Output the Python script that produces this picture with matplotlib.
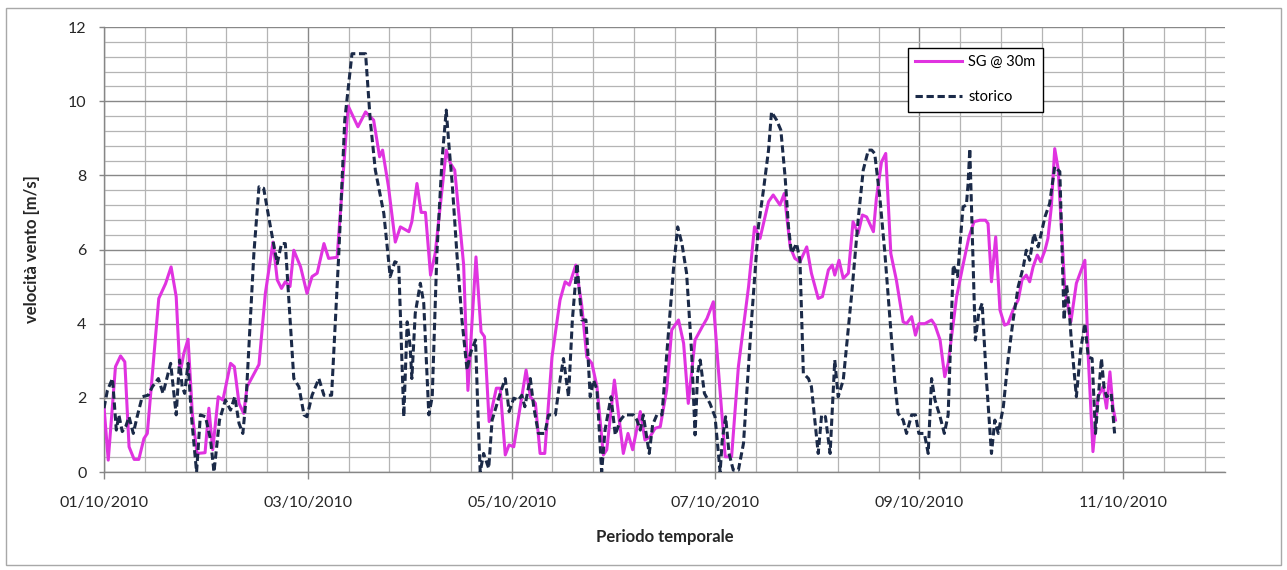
import numpy as np
import matplotlib
matplotlib.use("Agg")
import matplotlib.pyplot as plt
from matplotlib.ticker import MultipleLocator, FixedLocator, FixedFormatter
from matplotlib.patches import Rectangle

# ---------------- data ----------------
# hours since 01/10/2010 00:00
sg_hours = [0, 1.0, 2.7, 3.9, 4.9, 5.9, 7.1, 8.2, 9.4, 10.2,
            12.9, 14.5, 15.8, 17.0, 17.9, 18.8, 19.8, 20.8, 21.9, 23.8,
            24.7, 25.6, 26.9, 28.0, 29.8, 30.7, 31.8, 32.9, 33.7, 36.5,
            38.0, 39.8, 40.8, 41.8, 42.7, 43.8, 44.7, 46.3, 47.8, 49.0,
            50.2, 51.8, 52.9, 54.9, 57.5, 59.8, 61.6, 62.7, 63.5, 64.9,
            65.6, 67.0, 68.6, 69.8, 71.8, 72.5, 73.7, 74.7, 75.7, 76.9,
            78.0, 80.6, 81.6, 82.6, 84.7, 85.7, 87.6, 88.8, 89.6, 90.7,
            92.4, 93.3, 94.5, 95.4, 96.5, 99.4, 100.4, 101.6, 102.7, 103.8,
            105.5, 107.4, 108.6, 109.6, 111.1, 112.5, 113.7, 114.9, 116.1, 117.6,
            118.4, 120.2, 122.3, 123.4, 124.5, 126.3, 127.4, 128.6, 129.8, 131.0,
            132.5, 133.7, 135.3, 136.5, 137.6, 139.2, 140.9, 142.0, 143.5, 144.7,
            146.3, 147.8, 149.4, 151.8, 153.2, 154.5, 156.5, 157.6, 159.2, 160.2,
            161.6, 162.7, 163.9, 165.5, 166.6, 168.2, 169.2, 170.6, 171.5, 172.1,
            173.1, 174.1, 175.3, 176.4, 177.6, 178.6, 179.6, 181.2, 181.9, 183.1,
            184.1, 185.3, 186.6, 188.2, 189.0, 190.2, 191.1, 191.9, 193.3, 194.9,
            195.7, 196.9, 198.0, 198.8, 200.8, 202.3, 203.7, 204.9, 206.3, 207.6,
            208.2, 209.0, 210.0, 211.0, 212.1, 212.9, 214.1, 215.3, 216.2, 217.2,
            218.0, 218.8, 219.8, 220.6, 221.6, 222.3, 223.1, 223.9, 224.7, 226.3,
            227.7, 229.0, 231.0, 231.8, 232.9, 234.1, 235.3, 236.1, 236.9, 237.6,
            238.2]
sg_values = [1.76, 0.32, 2.84, 3.13, 2.97, 0.68, 0.34, 0.34, 0.90, 1.04,
             4.68, 5.08, 5.53, 4.73, 2.66, 3.20, 3.58, 1.58, 0.50, 0.52,
             1.72, 0.60, 2.03, 1.94, 2.93, 2.84, 1.85, 1.58, 2.30, 2.90,
             4.82, 6.20, 5.18, 4.95, 5.13, 5.00, 5.98, 5.53, 4.82, 5.27,
             5.36, 6.16, 5.76, 5.79, 9.87, 9.31, 9.71, 9.58, 9.49, 8.50,
             8.68, 7.69, 6.20, 6.61, 6.48, 6.75, 7.78, 7.00, 7.00, 5.31,
             5.90, 8.68, 8.32, 8.14, 5.58, 2.20, 5.80, 3.78, 3.65, 1.36,
             2.26, 2.26, 0.46, 0.73, 0.68, 2.75, 2.03, 1.85, 0.50, 0.50,
             3.10, 4.64, 5.13, 5.04, 5.58, 4.50, 3.10, 2.93, 2.30, 0.46,
             0.60, 2.48, 0.50, 1.04, 0.60, 1.63, 0.86, 0.95, 1.18, 1.22,
             2.21, 3.83, 4.10, 3.47, 1.85, 3.56, 3.92, 4.14, 4.59, 2.75,
             0.41, 0.41, 2.84, 5.00, 6.61, 6.30, 7.29, 7.47, 7.20, 7.51,
             6.07, 5.76, 5.67, 6.07, 5.36, 4.68, 4.73, 5.45, 5.58, 5.31,
             5.71, 5.22, 5.36, 6.75, 6.43, 6.93, 6.88, 6.48, 7.38, 8.36,
             8.59, 5.89, 5.18, 4.05, 4.00, 4.19, 3.69, 4.00, 4.00, 4.10,
             3.96, 3.56, 2.57, 2.93, 4.73, 5.58, 6.34, 6.75, 6.79, 6.79,
             6.70, 5.13, 6.34, 4.37, 3.96, 4.00, 4.37, 4.64, 5.18, 5.31,
             5.13, 5.53, 5.85, 5.67, 5.98, 6.30, 7.15, 8.72, 8.18, 4.90,
             4.05, 5.09, 5.71, 3.10, 0.55, 2.03, 2.30, 1.72, 2.70, 1.76,
             1.40]

st_hours = [0, 0.8, 2.0, 2.9, 3.5, 4.3, 5.1, 5.9, 6.9, 7.8,
            9.0, 10.4, 11.4, 12.8, 13.9, 14.9, 15.7, 16.2, 17.0, 17.8,
            18.4, 19.0, 19.8, 20.6, 21.8, 22.7, 23.9, 25.1, 25.9, 27.2,
            28.6, 29.8, 30.8, 31.8, 32.7, 33.5, 35.3, 36.5, 37.6, 39.2,
            40.8, 41.8, 42.7, 44.7, 45.9, 47.1, 47.8, 49.0, 50.6, 51.8,
            53.6, 55.3, 56.7, 58.4, 61.6, 62.7, 63.9, 65.9, 67.4, 68.5,
            69.4, 70.6, 71.4, 72.1, 72.5, 73.3, 74.5, 75.3, 76.5, 77.3,
            78.4, 79.6, 80.6, 81.2, 82.0, 83.1, 84.3, 85.5, 86.3, 87.5,
            88.2, 88.6, 89.4, 90.6, 91.4, 93.3, 94.5, 95.4, 96.5, 97.6,
            98.4, 99.1, 100.0, 100.4, 101.2, 102.3, 103.8, 104.7, 106.3, 107.4,
            108.2, 109.4, 110.3, 111.4, 112.5, 113.5, 114.0, 114.5, 115.3, 116.1,
            117.2, 118.0, 119.4, 120.4, 121.6, 122.6, 124.7, 125.5, 126.3, 127.0,
            128.4, 129.2, 130.2, 131.4, 132.8, 134.1, 135.1, 136.1, 137.2, 138.4,
            139.2, 139.8, 140.4, 141.4, 142.7, 143.9, 145.1, 145.6, 146.4, 147.2,
            148.2, 149.4, 150.6, 152.5, 154.1, 155.3, 156.5, 157.2, 158.4, 159.4,
            160.4, 161.2, 161.9, 163.1, 163.9, 164.7, 165.9, 166.6, 168.2, 169.0,
            169.9, 171.0, 172.1, 172.9, 174.1, 176.1, 177.6, 178.8, 180.0, 180.8,
            181.5, 182.7, 183.9, 185.1, 186.2, 187.0, 188.2, 189.0, 190.2, 191.1,
            191.9, 193.2, 194.1, 194.9, 195.7, 196.9, 197.9, 198.8, 200.0, 201.0,
            202.3, 203.1, 203.5, 203.9, 204.5, 205.2, 206.0, 206.8, 207.8, 209.0,
            209.8, 210.6, 211.8, 212.9, 214.1, 215.3, 216.5, 217.2, 218.0, 219.0,
            220.0, 221.6, 222.7, 223.9, 225.1, 225.9, 226.1, 226.7, 227.2, 227.8,
            229.0, 230.0, 231.0, 231.8, 232.7, 233.5, 234.1, 234.9, 235.5, 236.1,
            237.2, 238.0]
st_values = [1.72, 2.20, 2.52, 1.13, 1.54, 1.09, 1.22, 1.49, 1.04, 1.49,
             2.03, 2.07, 2.30, 2.52, 2.12, 2.57, 2.93, 2.39, 1.54, 3.02,
             2.30, 2.12, 2.93, 1.49, 0.00, 1.54, 1.49, 0.86, 0.00, 1.40,
             1.94, 1.67, 2.03, 1.31, 1.04, 2.03, 5.90, 7.69, 7.65, 6.61,
             5.62, 6.16, 6.16, 2.52, 2.30, 1.54, 1.49, 2.07, 2.52, 2.07,
             2.07, 5.90, 9.49, 11.28, 11.28, 9.49, 8.14, 6.97, 5.27, 5.67,
             5.62, 1.49, 4.05, 3.38, 2.52, 4.28, 5.09, 4.55, 1.54, 2.03,
             5.90, 8.41, 9.76, 8.86, 7.78, 5.90, 4.10, 2.75, 3.20, 3.56,
             1.13, 0.00, 0.50, 0.10, 1.40, 2.12, 2.52, 1.63, 1.99, 1.94,
             2.07, 1.76, 2.30, 2.52, 1.76, 1.04, 1.04, 1.54, 1.54, 2.48,
             3.06, 2.03, 4.10, 5.62, 4.10, 4.10, 3.10, 2.03, 2.48, 2.21,
             0.00, 1.13, 2.03, 1.00, 1.40, 1.54, 1.54, 1.40, 1.13, 1.54,
             0.50, 1.27, 1.54, 1.54, 3.56, 5.45, 6.61, 6.16, 5.36, 3.20,
             1.00, 2.66, 3.02, 2.12, 1.85, 1.49, 0.00, 0.86, 1.49, 0.50,
             0.05, 0.05, 0.77, 4.10, 6.61, 7.60, 8.68, 9.71, 9.49, 9.22,
             7.96, 6.61, 5.90, 6.16, 5.71, 2.66, 2.52, 2.30, 0.50, 1.54,
             1.49, 0.50, 3.02, 2.03, 2.48, 4.82, 6.79, 8.14, 8.68, 8.68,
             8.59, 7.42, 5.90, 4.10, 2.48, 1.58, 1.40, 1.04, 1.54, 1.54,
             1.04, 1.04, 0.50, 2.52, 1.94, 1.49, 1.04, 1.54, 5.58, 5.27,
             7.15, 7.20, 7.78, 8.72, 6.34, 3.56, 4.28, 4.55, 2.52, 0.50,
             1.40, 1.04, 1.76, 3.02, 4.10, 5.00, 5.53, 5.98, 5.71, 6.43,
             6.07, 6.88, 7.24, 8.23, 8.10, 4.82, 4.10, 5.04, 4.55, 3.56,
             2.03, 3.29, 4.00, 3.10, 3.06, 1.04, 1.94, 3.06, 2.30, 2.03,
             2.12, 1.04]

x_tick_days = [0, 2, 4, 6, 8, 10]
x_tick_labels = ["01/10/2010", "03/10/2010", "05/10/2010",
                 "07/10/2010", "09/10/2010", "11/10/2010"]
series_labels = ["SG @ 30m", "storico"]

assert len(sg_hours) == len(sg_values)
assert len(st_hours) == len(st_values)

# ---------------- style ----------------
W, H = 1287, 570
plt.rcParams['font.family'] = ['Lato', 'DejaVu Sans']
MAGENTA = '#E033E0'
NAVY = '#1B2A48'
TXT = '#262626'

fig = plt.figure(figsize=(W / 100, H / 100), dpi=100)
fig.patch.set_facecolor('white')

# outer chart border
fig.patches.append(Rectangle((6 / W, 1 - 565 / H), (1281 - 6) / W, (565 - 8) / H,
                             transform=fig.transFigure, fill=False,
                             edgecolor='#A8A8A8', linewidth=1.0))

ax = fig.add_axes([104 / W, 1 - 472 / H, 1121 / W, 445 / H])

sg_days = np.array(sg_hours) / 24.0
st_days = np.array(st_hours) / 24.0

ax.plot(sg_days, sg_values, color=MAGENTA, linewidth=2.2,
        label=series_labels[0], zorder=3)
ax.plot(st_days, st_values, color=NAVY, linewidth=2.2, linestyle=(0, (2.4, 1.2)),
        label=series_labels[1], zorder=4)

ax.set_xlim(0, 11)
ax.set_ylim(0, 12)

ax.xaxis.set_major_locator(FixedLocator(x_tick_days))
ax.xaxis.set_major_formatter(FixedFormatter(x_tick_labels))
ax.xaxis.set_minor_locator(MultipleLocator(0.4))
ax.yaxis.set_major_locator(MultipleLocator(2))
ax.yaxis.set_minor_locator(MultipleLocator(0.4))

ax.grid(which='minor', color='#B4B4B4', linewidth=0.9, zorder=0)
ax.grid(which='major', color='#888888', linewidth=1.0, zorder=0)
ax.set_axisbelow(True)

for s in ['top', 'right']:
    ax.spines[s].set_visible(False)
for s in ['left', 'bottom']:
    ax.spines[s].set_color('#868686')
    ax.spines[s].set_linewidth(1.0)

ax.tick_params(axis='x', which='major', direction='out', length=5, width=1,
               color='#868686', pad=12, labelsize=11.5, labelcolor=TXT)
ax.tick_params(axis='y', which='major', direction='out', length=3.6, width=1,
               color='#868686', pad=9, labelsize=11.5, labelcolor=TXT)
ax.tick_params(which='minor', length=0)

ax.set_xlabel("Periodo temporale", fontsize=12, fontweight='bold', color=TXT,
              labelpad=14)
ax.set_ylabel("velocità vento [m/s]", fontsize=12, fontweight='bold', color=TXT,
              labelpad=20)

leg = ax.legend(loc='upper left', bbox_to_anchor=(0.717, 0.953), borderaxespad=0,
                fontsize=10.5, frameon=True, fancybox=False, edgecolor='black',
                borderpad=0.5, handlelength=3.2, handletextpad=0.45,
                labelspacing=1.45)
leg.get_frame().set_linewidth(1.0)
leg.get_frame().set_facecolor('white')
leg.get_frame().set_alpha(1.0)
for t in leg.get_texts():
    t.set_color('black')

fig.savefig('out.png', dpi=100, facecolor='white')
